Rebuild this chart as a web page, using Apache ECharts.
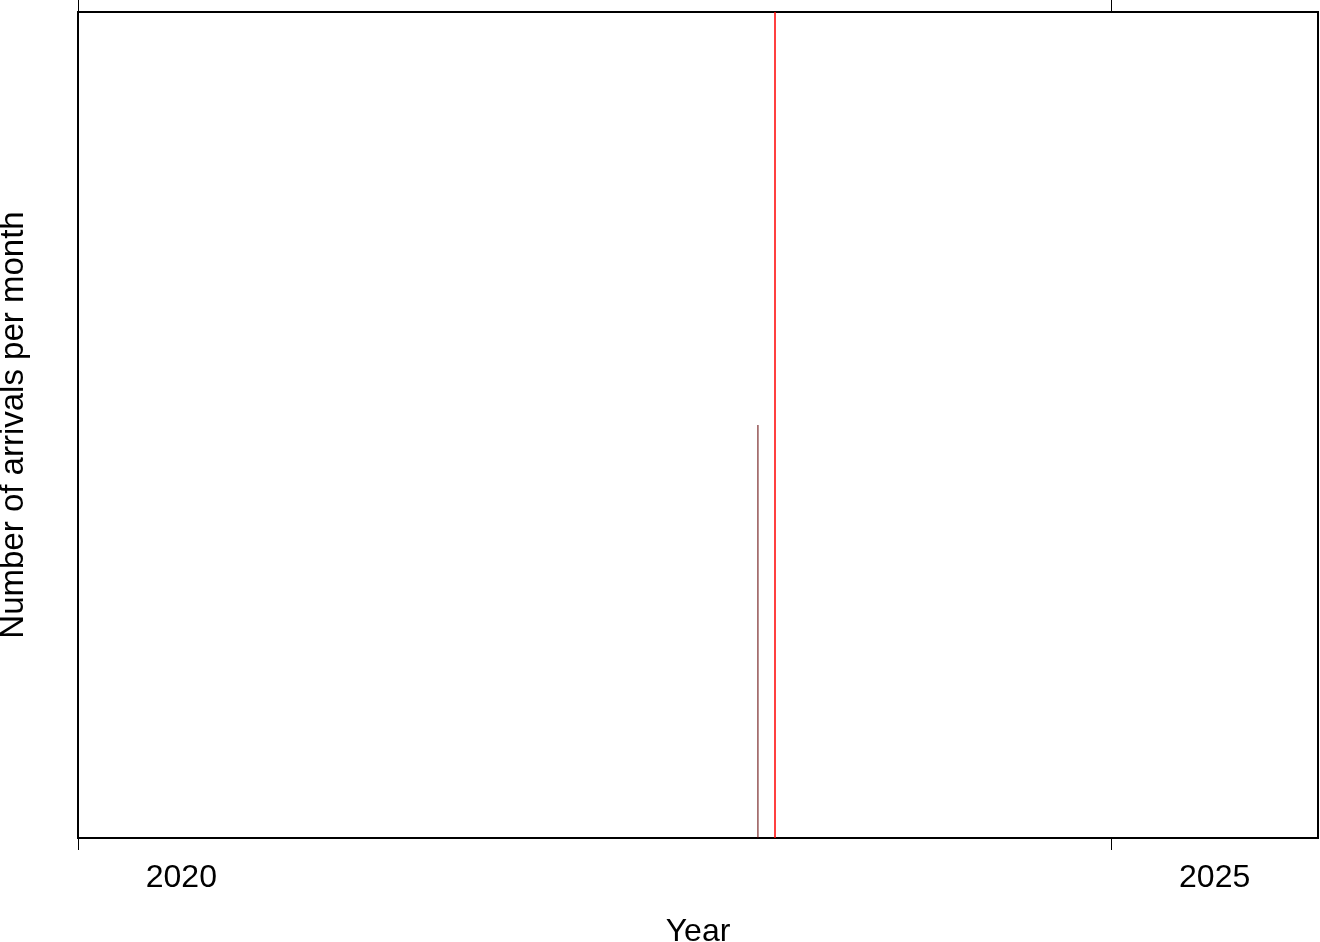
<!DOCTYPE html>
<html>
<head>
<meta charset="utf-8">
<script src="https://cdn.jsdelivr.net/npm/echarts@6/dist/echarts.min.js"></script>
<style>
html,body{margin:0;padding:0;background:#fff;}
#chart{width:1320px;height:942px;}
</style>
</head>
<body>
<div id="chart"></div>
<script>
// Data (decimal years)
var monthPositions = [2023.29];   // April 2023 (mid-month)
var arrivals = [1];
var referenceYear = [2023.37];
var tickYears = [2020, 2025];
var labelYears = [2020.5, 2025.5]; // labels shown at mid-year
var xMin = 2020, xMax = 2026, yMin = 0, yMax = 2;

var FONT = 'Liberation Sans, Arial, Helvetica, sans-serif';
var chart = echarts.init(document.getElementById('chart'), null, {renderer: 'canvas'});
var barData = monthPositions.map(function (x, i) { return [x, arrivals[i]]; });

chart.setOption({
  animation: false,
  backgroundColor: '#ffffff',
  grid: {
    left: 78, right: 2, top: 12, bottom: 104,
    outerBoundsMode: 'none', containLabel: false,
    show: true, borderColor: '#000', borderWidth: 2, backgroundColor: 'transparent'
  },
  xAxis: [{
    type: 'value', min: xMin, max: xMax, interval: 5, position: 'bottom',
    splitLine: {show: false},
    axisLine: {show: false},
    axisTick: {show: true, inside: false, length: 12, customValues: tickYears, lineStyle: {color: '#000', width: 1}},
    axisLabel: {
      show: true, customValues: labelYears, margin: 24,
      color: '#000', fontSize: 32, fontFamily: FONT,
      formatter: function (v) { return String(Math.floor(v)); }
    },
    name: 'Year', nameLocation: 'middle', nameGap: 78,
    nameTextStyle: {color: '#000', fontSize: 32, fontFamily: FONT}
  }, {
    type: 'value', min: xMin, max: xMax, interval: 5, position: 'top',
    splitLine: {show: false},
    axisLine: {show: false},
    axisTick: {show: true, inside: false, length: 12, customValues: tickYears, lineStyle: {color: '#000', width: 1}},
    axisLabel: {show: false}
  }],
  yAxis: {
    type: 'value', min: yMin, max: yMax,
    splitLine: {show: false},
    axisLine: {show: false},
    axisTick: {show: false},
    axisLabel: {show: false},
    name: 'Number of arrivals per month', nameLocation: 'middle', nameGap: 48,
    nameTextStyle: {color: '#000', fontSize: 33, fontFamily: FONT}
  },
  series: [{
    type: 'bar',
    xAxisIndex: 0,
    data: barData,
    barWidth: 1,
    itemStyle: {color: '#600000'},
    markLine: {
      silent: true,
      symbol: ['none', 'none'],
      label: {show: false},
      lineStyle: {color: '#ff0000', width: 1.5, type: 'solid'},
      data: referenceYear.map(function (x) { return {xAxis: x}; })
    }
  }]
});
</script>
</body>
</html>
